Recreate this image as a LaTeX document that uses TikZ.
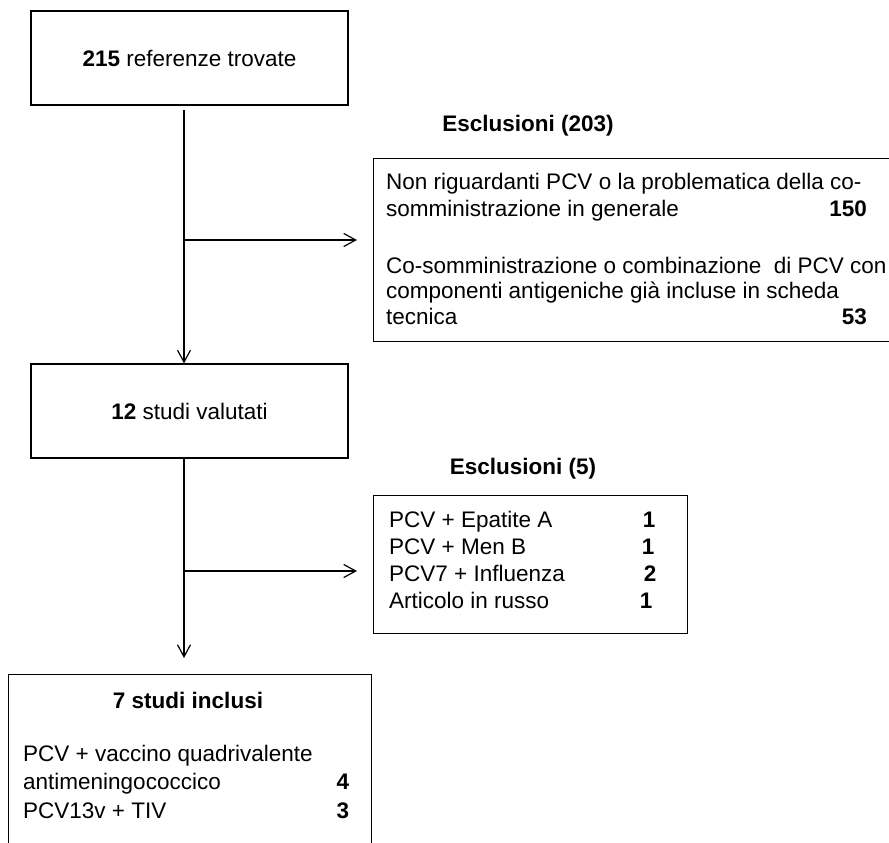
\documentclass[tikz,border=0pt]{standalone}
\usepackage{fontspec}
\setmainfont{Liberation Sans}
\usetikzlibrary{arrows.meta}
\newcommand{\fs}{\fontsize{22.5pt}{26pt}\selectfont}
\tikzset{
  box/.style={draw=black, line width=1.2pt, rectangle, inner sep=0pt, font=\fs},
  txt/.style={inner sep=0pt, anchor=base west, font=\fs},
  num/.style={inner sep=0pt, anchor=base east, font=\fs\bfseries},
  numc/.style={inner sep=0pt, anchor=base, font=\fs\bfseries},
  ttl/.style={inner sep=0pt, anchor=base, font=\fs\bfseries},
  conn/.style={draw=black, line width=1.2pt},
  arr/.style={conn, -{Straight Barb[length=12pt,width=13pt,line width=1.2pt]}}
}
\begin{document}
\begin{tikzpicture}[x=1pt, y=-1pt]
\useasboundingbox (0,0) rectangle (889,843);
\clip (0,0) rectangle (889,843);
% main boxes
\node[box, minimum width=317pt, minimum height=94pt] (b1) at (189.5,58) {\textbf{215} referenze trovate};
\node[box, minimum width=317pt, minimum height=94pt] (b2) at (189.5,411) {\textbf{12} studi valutati};
\node[box, anchor=north west, minimum width=363pt, minimum height=220pt] (b3) at (8,674) {};
% exclusion boxes
\node[box, anchor=north west, minimum width=540pt, minimum height=183pt] (x1) at (373,158) {};
\node[box, anchor=north west, minimum width=314pt, minimum height=138pt] (x2) at (373,495) {};
% titles
\node[ttl] (t1) at (528,131) {Esclusioni (203)};
\node[ttl] (t2) at (523,474) {Esclusioni (5)};
\node[ttl] (t3) at (188,708) {7 studi inclusi};
% exclusion 1 text
\node[txt] (a1) at (386,189) {Non riguardanti PCV o la problematica della co-};
\node[txt] (a2) at (386,216) {somministrazione in generale};
\node[num] (n1) at (867,216) {150};
\node[txt] (a3) at (386,273) {Co-somministrazione o combinazione\ \ di PCV con};
\node[txt] (a4) at (386,298) {componenti antigeniche già incluse in scheda};
\node[txt] (a5) at (386,324) {tecnica};
\node[num] (n2) at (867,324) {53};
% exclusion 2 text
\node[txt] (c1) at (389,527) {PCV + Epatite A};
\node[txt] (c2) at (389,554) {PCV + Men B};
\node[txt] (c3) at (389,581) {PCV7 + Influenza};
\node[txt] (c4) at (389,608) {Articolo in russo};
\node[numc] (m1) at (649,527) {1};
\node[numc] (m2) at (648,554) {1};
\node[numc] (m3) at (650,581) {2};
\node[numc] (m4) at (646,608) {1};
% included text
\node[txt] (d1) at (23,761) {PCV + vaccino quadrivalente};
\node[txt] (d2) at (23,789) {antimeningococcico};
\node[txt] (d3) at (23,818) {PCV13v + TIV};
\node[numc] (k1) at (343,789) {4};
\node[numc] (k2) at (343,818) {3};
% connectors
\coordinate (s1) at (184,110);
\coordinate (j1) at (184,240);
\coordinate (e1) at (357,240);
\coordinate (j2) at (184,571);
\coordinate (e2) at (357,571);
\coordinate (e3) at (184,658);
\draw[arr] (s1) -- (s1 |- b2.north);
\draw[arr] (j1) -- (e1);
\draw[arr] (s1 |- b2.south) -- (e3);
\draw[arr] (j2) -- (e2);
\end{tikzpicture}
\end{document}
